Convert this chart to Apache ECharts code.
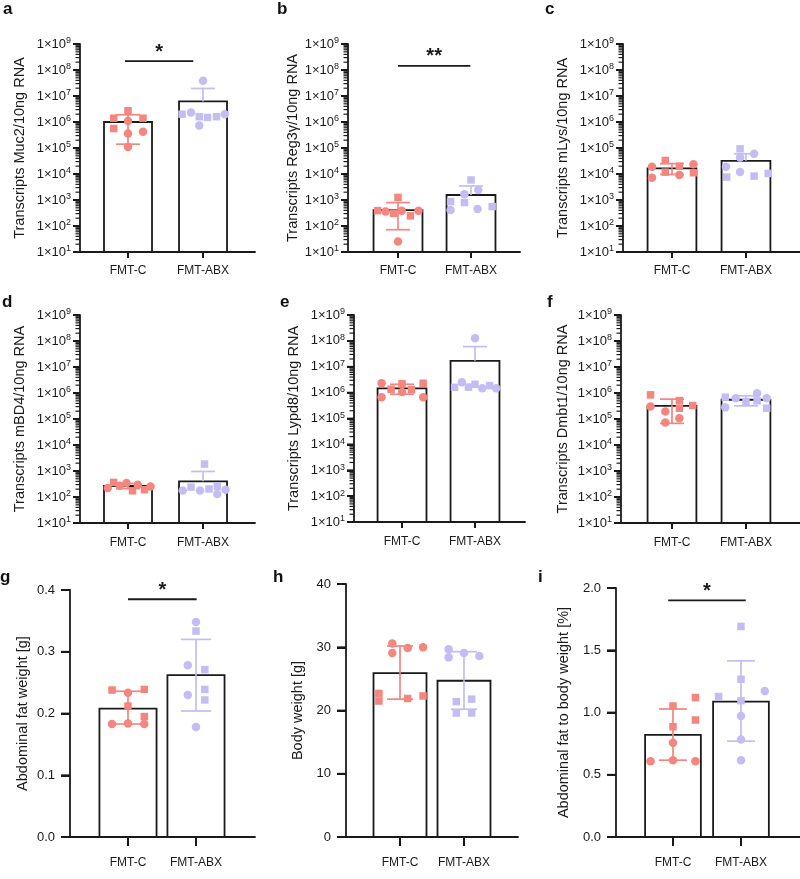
<!DOCTYPE html>
<html><head><meta charset="utf-8">
<script src="https://cdn.jsdelivr.net/npm/echarts@6/dist/echarts.min.js"></script>
<style>html,body{margin:0;padding:0;background:#fff}#c{width:800px;height:879px}</style>
</head><body><div id="c"></div>
<script>
// ---------- shared ----------
const categories = ['FMT-C', 'FMT-ABX'];
const logMinorMultipliers = [2, 3, 4, 5, 6, 7, 8, 9];
const logDecades = [1e1, 1e2, 1e3, 1e4, 1e5, 1e6, 1e7, 1e8];
const logMajorValues = [1e1, 1e2, 1e3, 1e4, 1e5, 1e6, 1e7, 1e8, 1e9];
const gTickLabels = ['0.0', '0.1', '0.2', '0.3', '0.4'];
const hTickLabels = ['0', '10', '20', '30', '40'];
const iTickLabels = ['0.0', '0.5', '1.0', '1.5', '2.0'];

// ---------- a : Muc2 ----------
const aName = 'Transcripts Muc2/10ng RNA';
const aMean = [1.0e6, 6.2e6];
const aHigh = [1.9e6, 1.95e7];
const aLow = [1.4e5, null];
const aC = [2.7e6, 1.4e6, 1.4e6, 1.1e6, 5.6e5, 4.2e5, 3.6e5, 1.1e5];
const aCShape = ['s', 's', 's', 'c', 's', 'c', 'c', 'c'];
const aCJit = [0, -0.19, 0.2, 0, -0.19, 0.2, 0, 0];
const aX = [3.85e7, 2.0e6, 2.3e6, 1.6e6, 7.4e5, 1.5e6, 1.6e6, 2.0e6];
const aXShape = ['c', 's', 'c', 's', 'c', 's', 's', 'c'];
const aXJit = [0, -0.28, -0.16, -0.05, -0.05, 0.06, 0.18, 0.29];
const aSig = { y: 2.2e8, from: -0.04, to: 0.87, text: '*' };

// ---------- b : Reg3γ ----------
const bName = 'Transcripts Reg3γ/10ng RNA';
const bMean = [410, 1560];
const bHigh = [795, 3460];
const bLow = [72, null];
const bC = [390, 360, 310, 1260, 390, 245, 390, 25.5];
const bCShape = ['s', 'c', 's', 's', 'c', 's', 'c', 'c'];
const bCJit = [-0.28, -0.17, -0.06, 0, 0.05, 0.17, 0.28, 0];
const bX = [5900, 1660, 2400, 870, 800, 415, 455, 560];
const bXShape = ['s', 'c', 'c', 's', 's', 'c', 'c', 's'];
const bXJit = [0, -0.09, 0.1, -0.28, -0.09, -0.28, 0.09, 0.29];
const bSig = { y: 1.45e8, from: 0, to: 0.99, text: '**' };

// ---------- c : mLys ----------
const cName = 'Transcripts mLys/10ng RNA';
const cMean = [1.65e4, 3.2e4];
const cHigh = [2.5e4, 6.0e4];
const cLow = [9.6e3, null];
const cC = [1.9e4, 7.2e3, 3.3e4, 1.18e4, 2.0e4, 9.1e3, 2.35e4, 1.12e4];
const cCShape = ['c', 'c', 's', 's', 's', 'c', 'c', 's'];
const cCJit = [-0.27, -0.27, -0.09, -0.09, 0.1, 0.1, 0.29, 0.29];
const cX = [9.3e4, 4.3e4, 6.0e4, 1.9e4, 1.2e4, 7.6e3, 8.3e3, 1.05e4];
const cXShape = ['s', 'c', 'c', 'c', 'c', 's', 's', 's'];
const cXJit = [-0.08, -0.08, 0.11, -0.27, -0.08, -0.26, 0.11, 0.3];

// ---------- d : mBD4 ----------
const dName = 'Transcripts mBD4/10ng RNA';
const dMean = [265, 400];
const dHigh = [330, 960];
const dLow = [210, null];
const dC = [220, 364, 270, 345, 174, 296, 190, 256];
const dCShape = ['c', 's', 'c', 'c', 's', 'c', 's', 'c'];
const dCJit = [-0.27, -0.19, -0.11, -0.02, 0.06, 0.13, 0.22, 0.3];
const dX = [1850, 240, 178, 178, 204, 256, 130, 190];
const dXShape = ['s', 's', 'c', 'c', 's', 's', 'c', 'c'];
const dXJit = [0.02, -0.16, -0.27, -0.04, 0.08, 0.19, 0.19, 0.3];

// ---------- e : Lypd8 ----------
const eName = 'Transcripts Lypd8/10ng RNA';
const eMean = [1.45e6, 1.7e7];
const eHigh = [2.1e6, 6.0e7];
const eLow = [8.7e5, null];
const eC = [2.3e6, 6.6e5, 1.35e6, 2.2e6, 1.05e6, 1.3e6, 6.6e5, 2.3e6];
const eCShape = ['c', 'c', 's', 's', 'c', 's', 'c', 's'];
const eCJit = [-0.28, -0.28, -0.15, 0, 0, 0.13, 0.29, 0.29];
const eX = [1.26e8, 1.6e6, 2.5e6, 1.63e6, 2.1e6, 1.48e6, 1.87e6, 1.48e6];
const eXShape = ['c', 's', 'c', 's', 's', 'c', 's', 'c'];
const eXJit = [0, -0.28, -0.18, -0.09, 0, 0.1, 0.2, 0.29];

// ---------- f : Dmbt1 ----------
const fName = 'Transcripts Dmbt1/10ng RNA';
const fMean = [3.2e5, 5.5e5];
const fHigh = [5.8e5, 7.8e5];
const fLow = [6.8e4, 3.2e5];
const fC = [8.5e5, 3.0e5, 5.1e5, 2.6e5, 1.95e5, 1.08e5, 7.4e4, 3.3e5];
const fCShape = ['s', 'c', 's', 's', 'c', 'c', 'c', 's'];
const fCJit = [-0.29, -0.29, 0.1, 0.1, -0.09, 0.1, -0.09, 0.28];
const fX = [6.9e5, 2.8e5, 6.3e5, 4.7e5, 9.8e5, 5.0e5, 6.3e5, 2.6e5];
const fXShape = ['s', 'c', 'c', 's', 'c', 's', 'c', 's'];
const fXJit = [-0.28, -0.28, -0.14, 0, 0.15, 0.15, 0.28, 0.28];

// ---------- g : abdominal fat weight ----------
const gName = 'Abdominal fat weight [g]';
const gMean = [0.208, 0.262];
const gHigh = [0.236, 0.320];
const gLow = [0.183, 0.204];
const gC = [0.238, 0.2335, 0.239, 0.212, 0.195, 0.183, 0.184, 0.183];
const gCShape = ['s', 'c', 's', 's', 's', 'c', 'c', 'c'];
const gCJit = [-0.235, 0, 0.24, 0, 0.24, -0.235, 0, 0.24];
const gX = [0.348, 0.3335, 0.278, 0.271, 0.230, 0.239, 0.222, 0.178];
const gXShape = ['c', 's', 'c', 's', 'c', 's', 's', 'c'];
const gXJit = [0, 0, -0.12, 0.13, -0.12, 0.13, 0.13, 0];
const gSig = { y: 0.385, from: 0, to: 1.01, text: '*' };

// ---------- h : body weight ----------
const hName = 'Body weight [g]';
const hMean = [25.9, 24.7];
const hHigh = [30.2, 29.3];
const hLow = [21.8, 20.2];
const hC = [30.6, 29.1, 29.9, 30.0, 22.7, 21.5, 21.9, 22.3];
const hCShape = ['c', 'c', 'c', 'c', 's', 's', 's', 's'];
const hCJit = [-0.12, -0.12, 0.12, 0.36, -0.33, -0.33, 0.12, 0.36];
const hX = [29.7, 28.4, 29.1, 28.6, 21.4, 21.8, 19.6, 19.6];
const hXShape = ['c', 'c', 'c', 'c', 's', 's', 's', 's'];
const hXJit = [-0.24, -0.24, 0, 0.24, -0.12, 0.12, -0.12, 0.12];

// ---------- i : fat to body weight ----------
const iName = 'Abdominal fat to body weight [%]';
const iMean = [0.82, 1.088];
const iHigh = [1.028, 1.415];
const iLow = [0.617, 0.770];
const iC = [1.052, 1.12, 0.886, 0.940, 0.757, 0.609, 0.617, 0.609];
const iCShape = ['s', 's', 's', 's', 'c', 'c', 'c', 'c'];
const iCJit = [0, 0.33, 0, 0.33, 0, -0.33, 0, 0.33];
const iX = [1.691, 1.267, 1.173, 1.128, 1.095, 0.972, 0.784, 0.617];
const iXShape = ['s', 's', 'c', 's', 's', 'c', 'c', 'c'];
const iXJit = [0, 0, 0.35, -0.33, 0, 0, 0, 0];
const iSig = { y: 1.90, from: -0.07, to: 1.07, text: '*' };

// ---------- styling ----------
const FONT = '"Liberation Sans", Arial, sans-serif';
const INK = '#1a1a1a';
const groupColors = ['#F4857F', '#C3BDF4'];

const panels = [
  { id: 'a', name: aName, log: true, mean: aMean, high: aHigh, low: aLow, pts: [[aC, aCShape, aCJit], [aX, aXShape, aXJit]], sig: aSig },
  { id: 'b', name: bName, log: true, mean: bMean, high: bHigh, low: bLow, pts: [[bC, bCShape, bCJit], [bX, bXShape, bXJit]], sig: bSig },
  { id: 'c', name: cName, log: true, mean: cMean, high: cHigh, low: cLow, pts: [[cC, cCShape, cCJit], [cX, cXShape, cXJit]] },
  { id: 'd', name: dName, log: true, mean: dMean, high: dHigh, low: dLow, pts: [[dC, dCShape, dCJit], [dX, dXShape, dXJit]] },
  { id: 'e', name: eName, log: true, mean: eMean, high: eHigh, low: eLow, pts: [[eC, eCShape, eCJit], [eX, eXShape, eXJit]] },
  { id: 'f', name: fName, log: true, mean: fMean, high: fHigh, low: fLow, pts: [[fC, fCShape, fCJit], [fX, fXShape, fXJit]] },
  { id: 'g', name: gName, log: false, ymax: 0.4, interval: 0.1, ticks: gTickLabels, mean: gMean, high: gHigh, low: gLow, pts: [[gC, gCShape, gCJit], [gX, gXShape, gXJit]], sig: gSig },
  { id: 'h', name: hName, log: false, ymax: 40, interval: 10, ticks: hTickLabels, mean: hMean, high: hHigh, low: hLow, pts: [[hC, hCShape, hCJit], [hX, hXShape, hXJit]] },
  { id: 'i', name: iName, log: false, ymax: 2.0, interval: 0.5, ticks: iTickLabels, mean: iMean, high: iHigh, low: iLow, pts: [[iC, iCShape, iCJit], [iX, iXShape, iXJit]], sig: iSig }
];

const layout = {
  a: { left: 80, top: 44, width: 175, height: 208, xmin: -0.64, xmax: 1.693, hw: 0.32, nameGap: 53, xt: 6, xm: 13, cap: 12, letter: [3, 18] },
  b: { left: 348, top: 44, width: 172, height: 208, xmin: -0.685, xmax: 1.671, hw: 0.335, nameGap: 48, xt: 6, xm: 13, cap: 12, letter: [277, 18] },
  c: { left: 623, top: 44, width: 177, height: 208, xmin: -0.662, xmax: 1.73, hw: 0.33, nameGap: 53, xt: 6, xm: 13, cap: 12, letter: [545, 18] },
  d: { left: 80, top: 315, width: 175, height: 208, xmin: -0.64, xmax: 1.693, hw: 0.32, nameGap: 53, xt: 6, xm: 14, cap: 12, letter: [2, 311] },
  e: { left: 354, top: 315, width: 171, height: 207, xmin: -0.658, xmax: 1.685, hw: 0.335, nameGap: 53, xt: 6, xm: 14, cap: 12, letter: [280, 311] },
  f: { left: 621, top: 315, width: 179, height: 208, xmin: -0.689, xmax: 1.73, hw: 0.33, nameGap: 51, xt: 6, xm: 14, cap: 12, letter: [547, 311] },
  g: { left: 70, top: 590, width: 185, height: 247, xmin: -0.853, xmax: 1.868, hw: 0.42, nameGap: 40, xt: 9, xm: 20, cap: 15, letter: [0, 586] },
  h: { left: 346, top: 584, width: 172, height: 253, xmin: -0.844, xmax: 1.844, hw: 0.414, nameGap: 41, xt: 9, xm: 20, cap: 13, letter: [273, 586] },
  i: { left: 616, top: 588, width: 184, height: 249, xmin: -0.838, xmax: 1.868, hw: 0.41, nameGap: 45, xt: 9, xm: 20, cap: 14, letter: [538, 586] }
};

const LW = 1.8;
const grid = [], xAxis = [], yAxis = [], series = [], graphic = [];
const minorTickValues = [];
logDecades.forEach(d => logMinorMultipliers.forEach(m => minorTickValues.push(m * d)));

panels.forEach((p, k) => {
  const L = layout[p.id];
  grid.push({ left: L.left, top: L.top, width: L.width, height: L.height });
  xAxis.push({
    type: 'value', gridIndex: k, min: L.xmin, max: L.xmax, position: 'bottom',
    axisLine: { show: true, onZero: false, lineStyle: { color: INK, width: LW } },
    axisTick: { show: true, customValues: [0, 1], length: L.xt, lineStyle: { color: INK, width: 2 } },
    axisLabel: { customValues: [0, 1], formatter: v => categories[Math.round(v)], margin: L.xm, fontSize: 12, color: INK, fontFamily: FONT },
    splitLine: { show: false }
  });
  const yi = yAxis.length;
  const nameStyle = { fontSize: 14.5, color: INK, fontFamily: FONT };
  const linTickValues = p.log ? [] : p.ticks.map((t, j) => j * p.interval);
  if (p.log) {
    yAxis.push({
      type: 'log', logBase: 10, gridIndex: k, min: 10, max: 1e9, splitNumber: 8, position: 'left',
      name: p.name, nameLocation: 'middle', nameGap: L.nameGap, nameTextStyle: nameStyle,
      axisLine: { show: true, onZero: false, lineStyle: { color: INK, width: LW } },
      axisTick: { show: true, length: 7, lineStyle: { color: INK, width: 2 } },
      axisLabel: {
        margin: 9, showMinLabel: true, showMaxLabel: true,
        formatter: v => '{m|1×10}{s|' + Math.round(Math.log10(v)) + '}',
        rich: {
          m: { fontSize: 13, color: INK, fontFamily: FONT },
          s: { fontSize: 9, color: INK, fontFamily: FONT, verticalAlign: 'top', padding: [0, 0, 6, 0] }
        }
      },
      splitLine: { show: false }
    });
  } else {
    yAxis.push({
      type: 'value', gridIndex: k, min: 0, max: p.ymax, interval: p.interval, position: 'left',
      name: p.name, nameLocation: 'middle', nameGap: L.nameGap, nameTextStyle: nameStyle,
      axisLine: { show: true, onZero: false, lineStyle: { color: INK, width: LW } },
      axisTick: { show: true, length: 9, lineStyle: { color: INK, width: 2 } },
      axisLabel: {
        margin: 15, fontSize: 13, color: INK, fontFamily: FONT,
        formatter: v => p.ticks[Math.round(v / p.interval)]
      },
      splitLine: { show: false }
    });
  }
  const base = p.log ? 10 : 0;

  // bars + error bars (+ axis tick marks drawn through the same axes' scales)
  series.push({
    type: 'custom', xAxisIndex: k, yAxisIndex: yi, z: 2, clip: false,
    data: p.mean.map((m, i) => [i, m]),
    renderItem: (params, api) => {
      const i = params.dataIndex;
      const tl = api.coord([i - L.hw, p.mean[i]]);
      const br = api.coord([i + L.hw, base]);
      const col = groupColors[i];
      const c = api.coord([i, p.mean[i]]);
      const children = [{
        type: 'rect', shape: { x: tl[0], y: tl[1], width: br[0] - tl[0], height: br[1] - tl[1] },
        style: { fill: '#fff', stroke: INK, lineWidth: LW }
      }];
      [p.high[i], p.low[i]].forEach(v => {
        if (v == null) return;
        const e = api.coord([i, v]);
        children.push({ type: 'line', shape: { x1: c[0], y1: c[1], x2: e[0], y2: e[1] }, style: { stroke: col, lineWidth: 1.7 } });
        children.push({ type: 'line', shape: { x1: e[0] - L.cap, y1: e[1], x2: e[0] + L.cap, y2: e[1] }, style: { stroke: col, lineWidth: 1.7 } });
      });
      // category tick below the x axis
      const xb = api.coord([i, base]);
      children.push({ type: 'line', shape: { x1: xb[0], y1: xb[1], x2: xb[0], y2: xb[1] + L.xt }, style: { stroke: INK, lineWidth: 1.8 } });
      if (i === 0) {
        if (p.log) {
          minorTickValues.forEach(v => {
            const pt = api.coord([L.xmin, v]);
            children.push({ type: 'line', shape: { x1: pt[0] - 4.5, y1: pt[1], x2: pt[0], y2: pt[1] }, style: { stroke: INK, lineWidth: 1.2 } });
          });
          logMajorValues.forEach(v => {
            const pt = api.coord([L.xmin, v]);
            children.push({ type: 'line', shape: { x1: pt[0] - 7, y1: pt[1], x2: pt[0], y2: pt[1] }, style: { stroke: INK, lineWidth: 1.8 } });
          });
        } else {
          linTickValues.forEach(v => {
            const pt = api.coord([L.xmin, v]);
            children.push({ type: 'line', shape: { x1: pt[0] - 9, y1: pt[1], x2: pt[0], y2: pt[1] }, style: { stroke: INK, lineWidth: 1.8 } });
          });
        }
      }
      return { type: 'group', children };
    }
  });

  // points
  p.pts.forEach((g, gi) => {
    const [vals, shapes, jit] = g;
    series.push({
      type: 'scatter', xAxisIndex: k, yAxisIndex: yi, z: 5,
      itemStyle: { color: groupColors[gi], opacity: 1 },
      data: vals.map((v, j) => ({
        value: [gi + jit[j], v],
        symbol: shapes[j] === 's' ? 'rect' : 'circle',
        symbolSize: shapes[j] === 's' ? 7.5 : 8.5
      }))
    });
  });

  // significance bracket
  if (p.sig) {
    const s = p.sig;
    series.push({
      type: 'custom', xAxisIndex: k, yAxisIndex: yi, z: 6, clip: false,
      data: [[s.from, s.y]],
      renderItem: (params, api) => {
        const a = api.coord([s.from, s.y]);
        const b = api.coord([s.to, s.y]);
        return {
          type: 'group', children: [
            { type: 'line', shape: { x1: a[0], y1: a[1], x2: b[0], y2: b[1] }, style: { stroke: INK, lineWidth: LW } },
            { type: 'text', style: { text: s.text, x: (a[0] + b[0]) / 2, y: a[1] + 1, align: 'center', verticalAlign: 'bottom', fontSize: 20, fontWeight: 'bold', fontFamily: FONT, fill: INK } }
          ]
        };
      }
    });
  }

  graphic.push({
    type: 'text', z: 10,
    style: { text: p.id, x: L.letter[0], y: L.letter[1], fontSize: 17, fontWeight: 'bold', fontFamily: FONT, fill: '#111', verticalAlign: 'bottom' }
  });
});

const chart = echarts.init(document.getElementById('c'), null, { renderer: 'canvas' });
chart.setOption({ animation: false, backgroundColor: '#fff', grid, xAxis, yAxis, series, graphic });
</script></body></html>
